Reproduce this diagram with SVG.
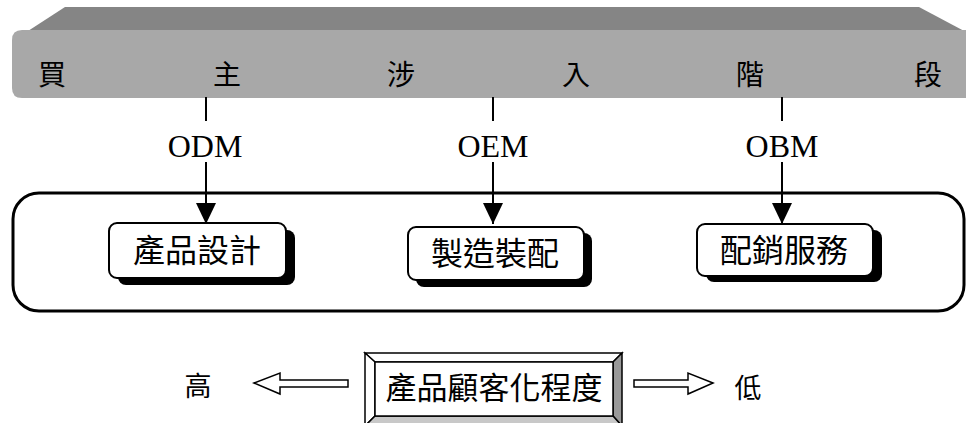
<svg xmlns="http://www.w3.org/2000/svg" width="966" height="423" viewBox="0 0 966 423">
<style>
.cjk{font-family:"Noto Sans CJK TC","Noto Sans CJK SC",sans-serif;fill:#000}
.top{font-size:28px;text-anchor:middle}
.box{font-size:32px;text-anchor:middle}
.lbl{font-family:"Liberation Serif","Times New Roman",serif;font-size:32px;text-anchor:middle;fill:#000}
.ln{stroke:#000;stroke-width:2;fill:none}
.nb{fill:#fff;stroke:#000;stroke-width:2}
.sh{fill:#000}
</style>
<defs>
<marker id="ah" markerWidth="21" markerHeight="20" refX="21" refY="10" orient="auto" markerUnits="userSpaceOnUse" viewBox="0 0 21 20">
<path d="M0,0 L21,10 L0,20 Z" fill="#000"/>
</marker>
</defs>
<rect width="966" height="423" fill="#fff"/>
<g id="bar">
<polygon points="28,31 65,7 919,7 966,32 966,40 28,40" fill="#858585"/>
<path d="M22,30 H966 V98 H22 Q12,98 12,88 V40 Q12,30 22,30 Z" fill="#a8a8a8"/>
<text class="cjk top" x="52" y="85">買</text>
<text class="cjk top" x="227" y="85">主</text>
<text class="cjk top" x="401" y="85">涉</text>
<text class="cjk top" x="576" y="85">入</text>
<text class="cjk top" x="750" y="85">階</text>
<text class="cjk top" x="928" y="85">段</text>
</g>
<g id="stage">
<rect x="13" y="193" width="951" height="118" rx="26" ry="26" fill="none" stroke="#000" stroke-width="3"/>
</g>
<g id="connectors">
<line class="ln" x1="206" y1="97" x2="206" y2="121"/>
<line class="ln" x1="206" y1="162" x2="206" y2="224" marker-end="url(#ah)"/>
<line class="ln" x1="493" y1="97" x2="493" y2="121"/>
<line class="ln" x1="493" y1="162" x2="493" y2="224" marker-end="url(#ah)"/>
<line class="ln" x1="782" y1="97" x2="782" y2="121"/>
<line class="ln" x1="782" y1="162" x2="782" y2="224" marker-end="url(#ah)"/>
<text class="lbl" x="205" y="157">ODM</text>
<text class="lbl" x="493" y="157">OEM</text>
<text class="lbl" x="782" y="157">OBM</text>
</g>
<g id="n1">
<rect class="sh" x="118" y="230" width="177" height="55" rx="8"/>
<rect class="nb" x="109" y="223" width="177" height="55" rx="8"/>
<text class="cjk box" x="197" y="262">產品設計</text>
</g>
<g id="n2">
<rect class="sh" x="416" y="233" width="176" height="54" rx="8"/>
<rect class="nb" x="408" y="227" width="176" height="53" rx="8"/>
<text class="cjk box" x="495" y="265">製造裝配</text>
</g>
<g id="n3">
<rect class="sh" x="706" y="230" width="176" height="52" rx="8"/>
<rect class="nb" x="697" y="224" width="176" height="52" rx="8"/>
<text class="cjk box" x="784" y="262">配銷服務</text>
</g>
<g id="scale">
<polygon points="365,353 622,353 613,362 375,362" fill="#fff" stroke="#000" stroke-width="1.5"/>
<polygon points="365,353 375,362 375,416 365,426" fill="#fff" stroke="#000" stroke-width="1.5"/>
<polygon points="622,353 622,426 613,416 613,362" fill="#999" stroke="#000" stroke-width="1.5"/>
<polygon points="365,426 375,416 613,416 622,426" fill="#c8c8c8" stroke="#000" stroke-width="1.5"/>
<rect x="375" y="362" width="238" height="54" fill="#fff" stroke="#000" stroke-width="1.5"/>
<text class="cjk box" x="494" y="399" style="font-size:31px">產品顧客化程度</text>
</g>
<g id="arrows">
<polygon points="254,383 280,373 280,380 348,380 348,387 280,387 280,394" fill="#fff" stroke="#000" stroke-width="1.5"/>
<polygon points="713,383 688,373 688,380 634,380 634,387 688,387 688,394" fill="#fff" stroke="#000" stroke-width="1.5"/>
<text class="cjk top" x="198" y="396" style="font-size:27px">高</text>
<text class="cjk top" x="748" y="398" style="font-size:27px">低</text>
</g>
</svg>
